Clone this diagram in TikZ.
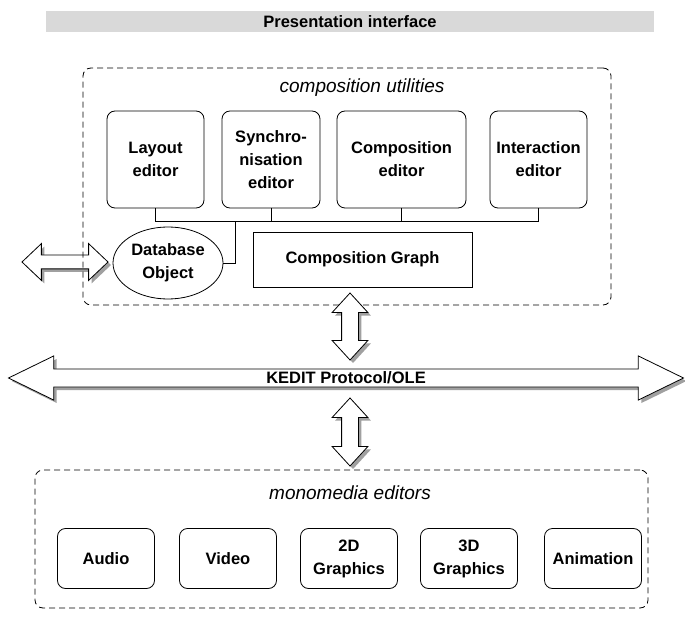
\documentclass[tikz,border=0pt]{standalone}
\usepackage{fontspec}
\setmainfont{Liberation Sans}
\usetikzlibrary{shapes.geometric,shapes.arrows,shadows}
\definecolor{bargray}{RGB}{217,217,217}
\definecolor{shadowgray}{RGB}{160,160,160}

\begin{document}
\begin{tikzpicture}[x=1pt, y=1pt,
    every node/.style={font=\fontsize{16.5}{23}\selectfont\bfseries},
    editor/.style={draw, rounded corners=8pt, align=center, line width=0.8pt},
    groupbox/.style={draw, rounded corners=8pt, dash pattern=on 6pt off 4pt, line width=0.8pt},
    grouptitle/.style={font=\fontsize{19}{23}\selectfont\itshape},
    blockarrow/.style={draw, double arrow, fill=white, inner xsep=0pt, line width=0.8pt,
        drop shadow={shadow xshift=3pt, shadow yshift=-3pt, fill=shadowgray, opacity=1}},
    uparrowstyle/.style={blockarrow, shape border rotate=90, inner xsep=8pt, inner ysep=0pt,
        double arrow head extend=9.5pt, double arrow tip angle=85}]
  \useasboundingbox (0,0) rectangle (685,622);

  \node[fill=bargray, minimum width=608pt, minimum height=21pt, inner sep=0pt] (pres) at (350,600.5) {Presentation interface};

  % composition utilities
  \node[blockarrow, minimum height=86pt, inner ysep=6.5pt, double arrow head extend=11.5pt, double arrow tip angle=87] (dbarrow) at (65,360) {};
  \node[groupbox, minimum width=528pt, minimum height=237pt] (compbox) at (347,435.5) {};
  \node[grouptitle] (comptitle) at (362,534) {composition utilities};

  \node[editor, minimum width=97pt, minimum height=97pt] (layout) at (155.5,462.5) {Layout\\editor};
  \node[editor, minimum width=98pt, minimum height=97pt] (synch) at (271,462.5) {Synchro-\\nisation\\editor};
  \node[editor, minimum width=129pt, minimum height=97pt] (compedit) at (401.5,462.5) {Composition\\editor};
  \node[editor, minimum width=97pt, minimum height=97pt] (inter) at (538.5,462.5) {Interaction\\editor};

  \node[draw, ellipse, line width=0.8pt, minimum width=110pt, minimum height=72pt, inner sep=0pt, align=center] (db) at (168,359) {Database\\Object};
  \node[draw, line width=0.8pt, minimum width=219pt, minimum height=55pt] (graph) at (362.5,362.5) {Composition Graph};

  \coordinate (bus) at (0,401);
  \coordinate (dbjoin) at (235,401);
  \draw[line width=0.8pt] (layout.south) -- (layout.south |- bus) -- (inter.south |- bus) -- (inter.south);
  \draw[line width=0.8pt] (synch.south) -- (synch.south |- bus);
  \draw[line width=0.8pt] (compedit.south) -- (compedit.south |- bus);
  \draw[line width=0.8pt] (db.east) -| (dbjoin);

  % protocol
  \node[uparrowstyle, minimum height=67pt] (uparrow) at (350,295.5) {};
  \node[blockarrow, minimum height=675pt, inner ysep=2.5pt, double arrow head extend=13pt, double arrow tip angle=52] (kedit) at (346,244) {KEDIT Protocol/OLE};

  % monomedia editors
  \node[groupbox, minimum width=613pt, minimum height=138pt] (monobox) at (341.5,83) {};
  \node[uparrowstyle, minimum height=68pt] (downarrow) at (350,190) {};
  \node[grouptitle] (monotitle) at (350,129) {monomedia editors};

  \node[editor, minimum width=97pt, minimum height=60pt] (audio) at (106,63.5) {Audio};
  \node[editor, minimum width=97pt, minimum height=60pt] (video) at (228,63.5) {Video};
  \node[editor, minimum width=97pt, minimum height=60pt] (twod) at (349,63.5) {2D\\Graphics};
  \node[editor, minimum width=97pt, minimum height=60pt] (threed) at (469,63.5) {3D\\Graphics};
  \node[editor, minimum width=97pt, minimum height=60pt] (anim) at (593,63.5) {Animation};
\end{tikzpicture}
\end{document}
